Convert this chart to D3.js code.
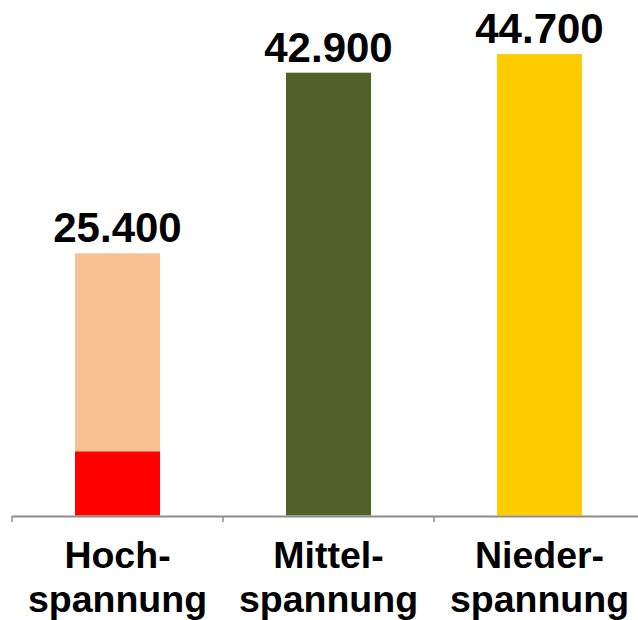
<!DOCTYPE html>
<html>
<head>
<meta charset="utf-8">
<script src="https://cdn.jsdelivr.net/npm/d3@7"></script>
<style>
  html, body { margin: 0; padding: 0; background: #fff; }
  svg { display: block; }
  text { font-family: "Liberation Sans", Arial, Helvetica, sans-serif; font-weight: bold; fill: #000; }
</style>
</head>
<body>
<svg id="chart" width="638" height="620"></svg>
<script>
// Voltage levels (two-line labels)
const categories = ["Hochspannung", "Mittelspannung", "Niederspannung"];
const labelLines = [["Hoch-", "spannung"], ["Mittel-", "spannung"], ["Nieder-", "spannung"]];
// Total per voltage level
const totals = [25400, 42900, 44700];
// Highlighted lower share of each bar (only for Hochspannung)
const lowerPart = [6200, 0, 0];
// Colours
const barColors = ["#F9C191", "#4F6228", "#FFCC00"];
const lowerColor = "#FF0000";

const fmt = v => d3.format(",")(v).replace(/,/g, ".");

const svg = d3.select("#chart");
const baseY = 515.5;

const x = d3.scaleBand()
  .domain(categories)
  .range([12, 645])
  .paddingInner(0.597)
  .paddingOuter(0.2985);

const y = d3.scaleLinear()
  .domain([0, 50000])
  .range([baseY, -0.6]);

const data = categories.map((c, i) => ({ c, total: totals[i], low: lowerPart[i], color: barColors[i], lines: labelLines[i] }));

// Full bars
svg.append("g").selectAll("rect.total")
  .data(data).join("rect")
  .attr("class", "total")
  .attr("x", d => x(d.c))
  .attr("width", x.bandwidth())
  .attr("y", d => y(d.total))
  .attr("height", d => y(0) - y(d.total))
  .attr("fill", d => d.color);

// Lower highlighted part
svg.append("g").selectAll("rect.low")
  .data(data.filter(d => d.low > 0)).join("rect")
  .attr("class", "low")
  .attr("x", d => x(d.c))
  .attr("width", x.bandwidth())
  .attr("y", d => y(d.low))
  .attr("height", d => y(0) - y(d.low))
  .attr("fill", lowerColor);

// Value labels
svg.append("g").selectAll("text.val")
  .data(data).join("text")
  .attr("class", "val")
  .attr("x", d => x(d.c) + x.bandwidth() / 2)
  .attr("y", d => y(d.total) - 11)
  .attr("text-anchor", "middle")
  .attr("font-size", 42)
  .text(d => fmt(d.total));

// Category axis: baseline with ticks at category boundaries
const step = x.step();
const gap = step * x.paddingInner();
const bounds = [x(categories[0]) - gap / 2].concat(categories.map(c => x(c) + x.bandwidth() + gap / 2));
const axis = svg.append("g");
axis.append("line")
  .attr("x1", bounds[0]).attr("x2", 638)
  .attr("y1", 516.5).attr("y2", 516.5)
  .attr("stroke", "#8c8c8c").attr("stroke-width", 2);
axis.selectAll("line.tick")
  .data(bounds).join("line")
  .attr("class", "tick")
  .attr("x1", d => d).attr("x2", d => d)
  .attr("y1", 516).attr("y2", 522)
  .attr("stroke", "#8c8c8c").attr("stroke-width", 1.5);

// Category labels
const catLabels = svg.append("g").selectAll("text.cat")
  .data(data).join("text")
  .attr("class", "cat")
  .attr("text-anchor", "middle")
  .attr("font-size", 37.5)
  .attr("x", d => x(d.c) + x.bandwidth() / 2);
catLabels.selectAll("tspan")
  .data(d => d.lines.map(l => ({ l, cx: x(d.c) + x.bandwidth() / 2 })))
  .join("tspan")
  .attr("x", t => t.cx)
  .attr("y", (t, i) => 568 + i * 43.5)
  .text(t => t.l);
</script>
</body>
</html>
